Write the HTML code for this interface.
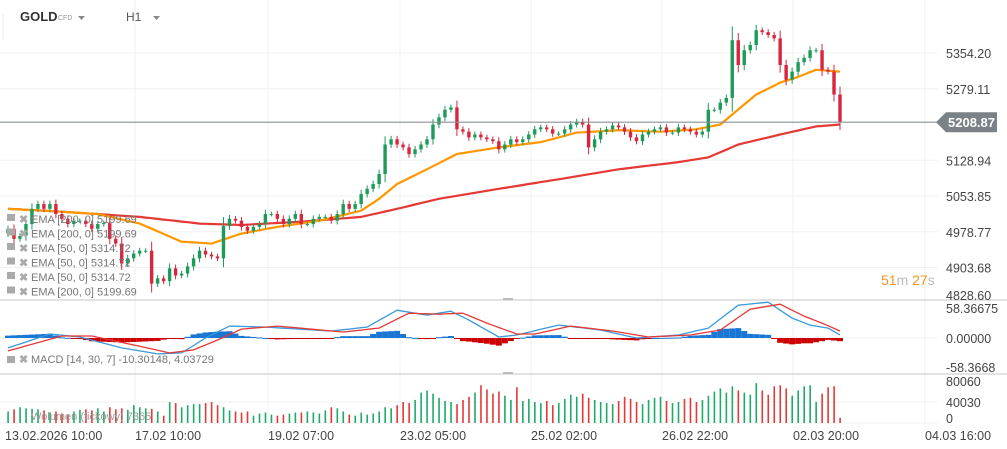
<!DOCTYPE html>
<html><head><meta charset="utf-8"><style>
body{margin:0;background:#fff;font-family:"Liberation Sans",sans-serif;}
#wrap{position:relative;width:1007px;height:449px;overflow:hidden;background:#fff}
svg text{font-family:"Liberation Sans",sans-serif}
</style></head><body>
<div id="wrap">
<svg id="chart" width="1007" height="449"></svg>
</div>
<script>
// ---- data ----
const closes=[4985,4964,4970,4995,5027,5037,5027,5037,5016,5006,4995,5002,5002,4995,4985,4995,4997,4964,
4954,4912,4923,4933,4939,4939,4870,4881,4875,4902,4887,4891,4906,4923,4939,4931,4927,4923,
4991,5006,5002,4989,4981,4989,4995,5016,5016,5006,4995,5006,5016,4995,4995,5006,5010,5010,
5002,5016,5037,5027,5037,5058,5069,5079,5100,5162,5173,5162,5156,5142,5152,5162,5173,
5204,5219,5235,5240,5194,5189,5177,5183,5177,5173,5169,
5152,5162,5173,5167,5173,5183,5194,5198,5194,5185,5185,5194,5204,5210,5204,
5156,5173,5189,5194,5202,5198,5189,5177,5169,5183,5189,5194,5198,5187,5187,5198,5194,5189,5183,5189,
5235,5235,5250,5260,
5381,5329,5360,5371,5402,5398,5392,5385,5329,5298,5315,5335,5344,5360,5360,5319,5315,5267,5209];
const firstOpen=4975;
const ema50Idx=[0,9,15,22,29,34,39,45,52,59,62,65,70,75,82,89,95,102,109,115,119,121,125,129,132,135,139];
const ema50Val=[5027,5021,5016,4996,4958,4954,4975,4989,5002,5023,5048,5079,5110,5142,5156,5167,5187,5192,5189,5194,5204,5225,5267,5292,5304,5319,5315];
const ema200Idx=[0,9,15,22,32,39,49,59,65,72,82,92,102,112,117,122,129,135,139];
const ema200Val=[5027,5021,5016,5010,4996,4993,5000,5010,5027,5048,5069,5089,5110,5125,5135,5162,5183,5200,5204];
const macdIdx=[0,7,12,19,25,29,33,37,43,54,60,65,70,74,77,82,85,92,99,105,112,117,122,127,131,134,137,139];
const macdVal=[-20,8,2,-20,-32,-30,0,24,22,14,22,56,46,54,36,2,6,26,16,0,6,20,66,72,40,26,20,6];
const sigIdx=[0,9,14,21,27,31,35,39,45,56,62,67,72,76,80,85,88,94,101,107,114,119,124,129,133,136,139];
const sigVal=[-26,4,4,-14,-30,-24,-4,18,24,12,20,50,48,50,30,8,8,24,14,2,6,16,58,68,44,30,14];
const volumes=[22000,26000,30000,28000,27000,26000,24000,20000,22000,18000,15000,22000,25000,26000,24000,28000,22000,30000,
26000,28000,25000,34000,30000,28000,27000,22000,14000,40000,38000,30000,34000,36000,36000,38000,40000,34000,
30000,24000,22000,20000,22000,14000,18000,20000,16000,14000,16000,18000,20000,20000,22000,20000,18000,24000,
30000,28000,22000,16000,14000,20000,16000,18000,22000,30000,28000,34000,40000,38000,44000,58000,62000,
56000,48000,42000,40000,36000,44000,50000,58000,72000,64000,56000,
60000,52000,44000,68000,42000,46000,40000,38000,42000,34000,38000,46000,54000,50000,56000,
48000,44000,40000,38000,36000,42000,50000,46000,40000,36000,44000,48000,50000,42000,38000,40000,46000,48000,40000,44000,
52000,60000,66000,58000,
70000,62000,58000,54000,76000,62000,54000,70000,72000,66000,52000,62000,70000,72000,40000,56000,68000,70000,10000];
const priceTicks=["5354.20","5279.11","5128.94","5053.85","4978.77","4903.68","4828.60"];
const priceTickVals=[5354.20,5279.11,5128.94,5053.85,4978.77,4903.68,4828.60];
const macdTicks=["58.36675","0.00000","-58.3668"];
const macdTickVals=[58.36675,0,-58.3668];
const volTicks=["80060","40030","0"];
const volTickVals=[80060,40030,0];
const timeLabels=["13.02.2026  10:00","17.02  10:00","19.02  07:00","23.02  05:00","25.02  02:00","26.02  22:00","02.03  20:00","04.03  16:00"];
const lastPrice=5208.87;

// ---- scales ----
const NS="http://www.w3.org/2000/svg";
const svg=document.getElementById('chart');
const n=closes.length;
const x0=8,x1=840;
const xS=i=>x0+i*(x1-x0)/(n-1);
const yP=p=>53+(5354.2-p)/2.1;
const yM=v=>338-v*29/58.36675;
const yV=v=>423-v*(423-381)/80060;
function mk(tag,attrs,parent){const e=document.createElementNS(NS,tag);for(const k in attrs)e.setAttribute(k,attrs[k]);(parent||svg).appendChild(e);return e;}
function interp(idx,val,i){for(let k=0;k<idx.length-1;k++){if(i>=idx[k]&&i<=idx[k+1]){const t=(i-idx[k])/(idx[k+1]-idx[k]||1);return val[k]+t*(val[k+1]-val[k]);}}return val[val.length-1];}

// grid
const grid=mk('g',{});


[135,268,400,531,662,793,925].forEach(x=>mk('line',{x1:x,x2:x,y1:0,y2:424,stroke:'#f0f0f0','stroke-width':1},grid));
priceTickVals.slice(0,6).forEach(v=>mk('line',{x1:0,x2:938,y1:yP(v),y2:yP(v),stroke:'#f0f0f0'},grid));
[0].forEach(v=>mk('line',{x1:0,x2:938,y1:yM(v),y2:yM(v),stroke:'#f0f0f0'},grid));
[40030,0].forEach(v=>mk('line',{x1:0,x2:938,y1:yV(v),y2:yV(v),stroke:'#f0f0f0'},grid));
mk('line',{x1:0,x2:1007,y1:300,y2:300,stroke:'#d8d8d8','stroke-width':1.5},grid);
mk('line',{x1:0,x2:1007,y1:374,y2:374,stroke:'#d8d8d8','stroke-width':1.5},grid);
mk('line',{x1:3,x2:3,y1:14,y2:40,stroke:'#eee'},grid);
mk('rect',{x:503,y:298,width:10,height:2,fill:'#bbb'},grid);
mk('rect',{x:503,y:372,width:10,height:2,fill:'#bbb'},grid);

// EMA lines
function emaLine(idx,val,color,name){let d='';for(let i=0;i<n;i++){d+=(i?'L':'M')+xS(i).toFixed(1)+','+yP(interp(idx,val,i)).toFixed(1);}
const p=mk('path',{d:d,fill:'none',stroke:color,'stroke-width':2.2,'stroke-linejoin':'round'});

}
emaLine(ema200Idx,ema200Val,'#e53935','ema-200-line');
emaLine(ema50Idx,ema50Val,'#ff9800','ema-50-line');

// candles
const cg=mk('g',{});


for(let i=0;i<n;i++){
 const o=i?closes[i-1]:firstOpen,c=closes[i];
 const up=c>=o,col=up?'#1e9a5a':'#d7263d';
 const hi=Math.max(o,c)+5+Math.abs(c-o)*0.2,lo=Math.min(o,c)-5-Math.abs(c-o)*0.2;
 const x=xS(i);
 const w=mk('line',{x1:x,x2:x,y1:yP(hi),y2:yP(lo),stroke:col,'stroke-width':1},cg);
 
 
 const top=yP(Math.max(o,c)),bot=yP(Math.min(o,c));
 const r=mk('rect',{x:x-1.7,y:top,width:3.4,height:Math.max(1,bot-top),fill:col},cg);
 
 
}

// last price line + label
mk('line',{x1:0,x2:940,y1:yP(lastPrice),y2:yP(lastPrice),stroke:'#8a9095','stroke-width':1.2});
const lp=mk('path',{d:`M936,${yP(lastPrice)} L946,${yP(lastPrice)-10} H997 V${yP(lastPrice)+10} H946 Z`,fill:'#7b8287'});


const lt=mk('text',{x:948,y:yP(lastPrice)+5,'font-size':13,fill:'#fff','font-weight':'bold'});lt.textContent=lastPrice.toFixed(2);



// price axis labels
priceTicks.forEach((t,k)=>{let y=yP(priceTickVals[k])+5;if(k==6)y=300;const e=mk('text',{x:946,y:y,'font-size':12.5,fill:'#444'});e.textContent=t;

});
macdTicks.forEach((t,k)=>{let y=yM(macdTickVals[k])+5;if(k==0)y=313;if(k==2)y=372;const e=mk('text',{x:946,y:y,'font-size':12.5,fill:'#444'});e.textContent=t;

});
volTicks.forEach((t,k)=>{let y=yV(volTickVals[k])+5;if(k==2)y=423;const e=mk('text',{x:946,y:y,'font-size':12.5,fill:'#444'});e.textContent=t;

});

// MACD histogram + lines
const mg=mk('g',{});


for(let i=0;i<n;i++){const h=(interp(macdIdx,macdVal,i)-interp(sigIdx,sigVal,i))*0.8;const y0=yM(0),y1=yM(h);
 const b=mk('rect',{x:xS(i)-3,y:Math.min(y0,y1),width:6,height:Math.max(1,Math.abs(y1-y0)),fill:h>=0?'#1976d2':'#cc0000'},mg);
 
 }
function mline(idx,val,col,name){let d='';for(let i=0;i<n;i++)d+=(i?'L':'M')+xS(i).toFixed(1)+','+yM(interp(idx,val,i)).toFixed(1);
 const p=mk('path',{d:d,fill:'none',stroke:col,'stroke-width':1.3,'stroke-linejoin':'round'},mg);
 
 }
mline(macdIdx,macdVal,'#3a9ad9','macd-line');
mline(sigIdx,sigVal,'#e53935','signal-line');

// volume
const vg=mk('g',{});


for(let i=0;i<n;i++){const o=i?closes[i-1]:firstOpen;const col=closes[i]>=o?'#1eaa6a':'#e53935';
 const b=mk('rect',{x:xS(i)-0.7,y:yV(volumes[i]),width:1.6,height:423-yV(volumes[i]),fill:col},vg);
 
 }

// time axis
const tx=[5,135,268,400,531,662,793,925];
timeLabels.forEach((t,k)=>{const e=mk('text',{x:tx[k],y:440,'font-size':12.5,fill:'#444','xml:space':'preserve'});e.textContent=t;

});

// legends
const legends=["EMA [200, 0]  5199.69","EMA [200, 0]  5199.69","EMA [50, 0]  5314.72","EMA [50, 0]  5314.72","EMA [50, 0]  5314.72","EMA [200, 0]  5199.69"];
legends.forEach((t,k)=>{const y=223+k*14.5;
 mk('rect',{x:7,y:y-9,width:8,height:7,fill:'#aaa'});
 const x=mk('text',{x:19,y:y,'font-size':11,fill:'#aaa','font-weight':'bold'});x.textContent='✖';
 
 
 const e=mk('text',{x:31,y:y,'font-size':11,fill:'#777','xml:space':'preserve'});e.textContent=t;
 
 });
mk('rect',{x:7,y:356,width:8,height:7,fill:'#aaa'});
const mx=mk('text',{x:19,y:363,'font-size':11,fill:'#aaa','font-weight':'bold'});mx.textContent='✖';
const ml=mk('text',{x:31,y:363,'font-size':11,fill:'#777','xml:space':'preserve'});ml.textContent='MACD [14, 30, 7] -10.30148,   4.03729';


const vl=mk('text',{x:31,y:420,'font-size':11,fill:'#999','xml:space':'preserve'});vl.textContent='Wolumen (tickowy)  7365';



// header
const g1=mk('text',{x:20,y:21,'font-size':13,'font-weight':'bold',fill:'#333'});g1.textContent='GOLD';


const g2=mk('text',{x:58,y:20,'font-size':7,fill:'#999'});g2.textContent='CFD';
mk('path',{d:'M78,16 h7 l-3.5,4 z',fill:'#888'});
const h1=mk('text',{x:126,y:21,'font-size':12,fill:'#555'});h1.textContent='H1';


mk('path',{d:'M153,16 h7 l-3.5,4 z',fill:'#888'});

// countdown
const cd=mk('text',{x:881,y:285,'font-size':14});
cd.innerHTML='<tspan fill="#f7931e">51</tspan><tspan fill="#bbb">m </tspan><tspan fill="#f7931e">27</tspan><tspan fill="#bbb">s</tspan>';


</script>
</body></html>
